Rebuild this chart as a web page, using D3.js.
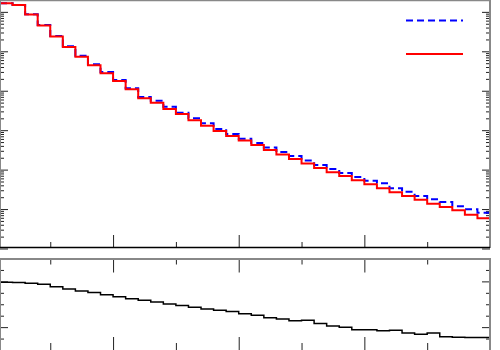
<!DOCTYPE html>
<html><head><meta charset="utf-8">
<script src="https://cdn.jsdelivr.net/npm/d3@7"></script>
<style>html,body{margin:0;padding:0;background:#fff;overflow:hidden}</style>
</head><body><svg id="c" width="500" height="350"></svg>
<script>
// bin edges (39 bins)
const binEdges = [1,2,3,4,5,6,7,8,9,10,11,12,13,14,15,16,17,18,19,20,21,22,23,24,25,26,27,28,29,30,31,32,33,34,35,36,37,38,39,40];
// blue dashed histogram
const blueValues = [1.65e6,1.49e6,8.67e5,4.65e5,2.44e5,1.34e5,7.73e4,4.68e4,2.99e4,1.87e4,1.15e4,6930,5590,3940,2770,2000,1490,1070,800,608,473,364,280,221,170,131,104,82.1,65,52.4,45,33.6,27.5,21.4,17.7,15.1,11.7,9.86,8.09];
// red solid histogram
const redValues = [1.65e6,1.49e6,8.57e5,4.51e5,2.37e5,1.29e5,7.29e4,4.42e4,2.77e4,1.77e4,1.09e4,6430,4940,3440,2570,1780,1300,953,712,547,421,314,242,186,143,110,85.5,68.9,53.6,42.4,33.6,26.6,21.4,17.3,13.7,11.3,9.3,7.2,5.83];
// ratio red/blue
const ratioValues = [0.996,0.995,0.992,0.987,0.977,0.967,0.958,0.951,0.942,0.933,0.924,0.917,0.910,0.901,0.894,0.887,0.879,0.874,0.868,0.859,0.852,0.841,0.836,0.828,0.830,0.816,0.805,0.799,0.788,0.789,0.784,0.786,0.774,0.769,0.774,0.758,0.756,0.755,0.755];
// ticks
const xMajorTicks = [10,20,30,40];
const xMinorTicks = [5,15,25,35];
const yTopMajor = [1,10,100,1000,1e4,1e5,1e6];
const yTopMinor = [2,3,4,5,6,7,8,9,20,30,40,50,60,70,80,90,200,300,400,500,600,700,800,900,2e3,3e3,4e3,5e3,6e3,7e3,8e3,9e3,2e4,3e4,4e4,5e4,6e4,7e4,8e4,9e4,2e5,3e5,4e5,5e5,6e5,7e5,8e5,9e5,2e6];
const ratioMajor = [0.8,1.0];
const ratioMinor = [0.75,0.85,0.9,0.95,1.05];

const svg = d3.select('#c');
const X0 = 0, X1 = 490;
const TOP0 = 0, TOP1 = 248.5;
const BOT0 = 258.5, BOT1 = 350;

const x = d3.scaleLinear().domain([1,40]).range([X0,X1]);
const yTop = d3.scaleLog().domain([1,2e6]).range([TOP1,TOP0]);
const yRat = d3.scaleLinear().domain([0.7,1.1]).range([BOT1,BOT0]);

function stepPts(vals){
  const pts = vals.map((v,i)=>[binEdges[i],v]);
  pts.push([binEdges[binEdges.length-1], vals[vals.length-1]]);
  return pts;
}
function axisG(axis, tx, ty, color){
  const g = svg.append('g').attr('transform',`translate(${tx},${ty})`).call(axis);
  g.select('.domain').remove();
  g.selectAll('text').remove();
  g.selectAll('line').attr('stroke',color||'#222').attr('stroke-width',1);
  return g;
}
const nof = ()=>'';

// Top pad ticks
axisG(d3.axisTop(x).tickValues(xMajorTicks).tickSize(13).tickFormat(nof),0,248);
axisG(d3.axisTop(x).tickValues(xMinorTicks).tickSize(6).tickFormat(nof),0,248);
axisG(d3.axisRight(yTop).tickValues(yTopMajor).tickSize(8).tickFormat(nof),0,0);
axisG(d3.axisRight(yTop).tickValues(yTopMinor).tickSize(4).tickFormat(nof),0,0);
axisG(d3.axisLeft(yTop).tickValues(yTopMajor).tickSize(8).tickFormat(nof),X1,0);
axisG(d3.axisLeft(yTop).tickValues(yTopMinor).tickSize(4).tickFormat(nof),X1,0);

// Bottom pad ticks
axisG(d3.axisBottom(x).tickValues(xMajorTicks).tickSize(14).tickFormat(nof),0,BOT0);
axisG(d3.axisBottom(x).tickValues(xMinorTicks).tickSize(6).tickFormat(nof),0,BOT0);
axisG(d3.axisTop(x).tickValues(xMajorTicks).tickSize(13).tickFormat(nof),0,BOT1);
axisG(d3.axisTop(x).tickValues(xMinorTicks).tickSize(7).tickFormat(nof),0,BOT1);
axisG(d3.axisRight(yRat).tickValues(ratioMajor).tickSize(8).tickFormat(nof),0,0);
axisG(d3.axisRight(yRat).tickValues(ratioMinor).tickSize(4).tickFormat(nof),0,0);
axisG(d3.axisLeft(yRat).tickValues(ratioMajor).tickSize(8).tickFormat(nof),X1,0);
axisG(d3.axisLeft(yRat).tickValues(ratioMinor).tickSize(4).tickFormat(nof),X1,0);

// Histograms
const lineTop = d3.line().x(d=>x(d[0])).y(d=>yTop(d[1])).curve(d3.curveStepAfter);
const lineRat = d3.line().x(d=>x(d[0])).y(d=>yRat(d[1])).curve(d3.curveStepAfter);

svg.append('path').attr('d',lineTop(stepPts(blueValues))).attr('fill','none')
  .attr('stroke','#0000ff').attr('stroke-width',2).attr('stroke-dasharray','7,4');
svg.append('path').attr('d',lineTop(stepPts(redValues))).attr('fill','none')
  .attr('stroke','#ff0000').attr('stroke-width',2);
svg.append('path').attr('d',lineRat(stepPts(ratioValues))).attr('fill','none')
  .attr('stroke','#000').attr('stroke-width',1.5);

// Frames
const gray = '#888';
svg.append('line').attr('x1',0).attr('x2',X1).attr('y1',0.5).attr('y2',0.5).attr('stroke',gray).attr('stroke-width',1.5);
svg.append('line').attr('x1',X1).attr('x2',X1).attr('y1',0).attr('y2',248).attr('stroke',gray).attr('stroke-width',2);
svg.append('line').attr('x1',0.5).attr('x2',0.5).attr('y1',0).attr('y2',248).attr('stroke',gray).attr('stroke-width',1);
svg.append('line').attr('x1',0).attr('x2',X1).attr('y1',247.5).attr('y2',247.5).attr('stroke','#000').attr('stroke-width',1.5);
svg.append('line').attr('x1',0).attr('x2',X1+1).attr('y1',259).attr('y2',259).attr('stroke',gray).attr('stroke-width',2);
svg.append('line').attr('x1',X1).attr('x2',X1).attr('y1',258).attr('y2',350).attr('stroke',gray).attr('stroke-width',2);
svg.append('line').attr('x1',0.5).attr('x2',0.5).attr('y1',258).attr('y2',350).attr('stroke',gray).attr('stroke-width',1);

// Legend
svg.append('line').attr('x1',406).attr('x2',463).attr('y1',20.5).attr('y2',20.5)
  .attr('stroke','#0000ff').attr('stroke-width',2).attr('stroke-dasharray','7,4');
svg.append('line').attr('x1',406).attr('x2',463).attr('y1',54).attr('y2',54)
  .attr('stroke','#ff0000').attr('stroke-width',2);
</script></body></html>
